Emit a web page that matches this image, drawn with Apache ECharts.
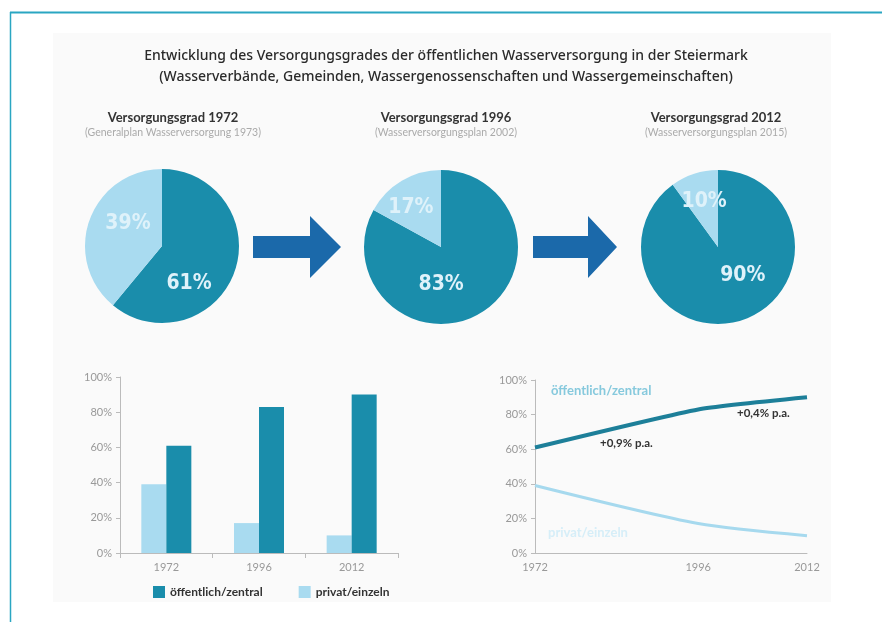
<!DOCTYPE html>
<html><head><meta charset="utf-8">
<script src="https://cdn.jsdelivr.net/npm/echarts@6/dist/echarts.min.js"></script>
<style>html,body{margin:0;padding:0;background:#fff}#c{width:882px;height:622px}</style>
</head><body><div id="c"></div>
<script>
const years = ['1972', '1996', '2012'];
const yearNums = [1972, 1996, 2012];
const oeffentlich = [61, 83, 90];
const privat = [39, 17, 10];
const seriesNames = ['öffentlich/zentral', 'privat/einzeln'];
const pieTitles = ['Versorgungsgrad 1972', 'Versorgungsgrad 1996', 'Versorgungsgrad 2012'];
const pieSources = ['(Generalplan Wasserversorgung 1973)', '(Wasserversorgungsplan 2002)', '(Wasserversorgungsplan 2015)'];
const growthLabels = ['+0,9% p.a.', '+0,4% p.a.'];
const mainTitle = 'Entwicklung des Versorgungsgrades der öffentlichen Wasserversorgung in der Steiermark\n(Wasserverbände, Gemeinden, Wassergenossenschaften und Wassergemeinschaften)';

const DARK = '#1a8dab';
const LIGHT = '#a9dbf0';
const FONT = 'Lato, "Noto Sans", sans-serif';

const pieCenters = [[162, 246], [441, 247], [718, 247]];
const headingCenters = [168, 441, 711];
const pieLabelOffsets = [[[-12, 23], [5, -8]], [[-21, 2], [-9, -4]], [[12, -11], [-1, -6]]];

const chart = echarts.init(document.getElementById('c'), null, {renderer: 'canvas'});

const titles = [{
  text: mainTitle, left: 441, top: 41, textAlign: 'center',
  textStyle: {fontFamily: '"Noto Sans", sans-serif', fontSize: 14, fontWeight: 500, color: '#2a2a2a', lineHeight: 21}
}];
pieCenters.forEach((c, i) => {
  titles.push({
    text: pieTitles[i], subtext: pieSources[i], left: headingCenters[i], top: 106, textAlign: 'center', itemGap: 3,
    textStyle: {fontFamily: FONT, fontSize: 13, fontWeight: 'bold', color: '#333'},
    subtextStyle: {fontFamily: FONT, fontSize: 10.5, color: '#aaa'}
  });
});

const pies = pieCenters.map((c, i) => ({
  type: 'pie', center: c, radius: 77, startAngle: 90, clockwise: true,
  silent: true, animation: false,
  label: {show: true, position: 'inside', formatter: '{c}%',
    fontFamily: '"Liberation Sans Narrow", "DejaVu Sans Condensed", sans-serif', fontWeight: 'bold',
    fontSize: 21, color: '#dff2fa'},
  labelLine: {show: false},
  data: [
    {value: oeffentlich[i], name: seriesNames[0], itemStyle: {color: DARK}, label: {offset: pieLabelOffsets[i][0]}},
    {value: privat[i], name: seriesNames[1], itemStyle: {color: LIGHT}, label: {offset: pieLabelOffsets[i][1]}}
  ]
}));

function arrow(x0, x1, x2) {
  return {type: 'polygon', shape: {points: [[x0, 236], [x1, 236], [x1, 216], [x2, 247], [x1, 278], [x1, 258], [x0, 258]]},
    style: {fill: '#1b69aa'}, z: 5};
}

const axisLab = {fontFamily: FONT, fontSize: 11, color: '#999'};
const axisLine = {show: true, lineStyle: {color: '#bbb', width: 1}};

const option = {
  animation: false,
  backgroundColor: '#fff',
  title: titles,
  graphic: [
    {type: 'rect', shape: {x: 53, y: 33, width: 778, height: 569}, style: {fill: '#fafafa'}, z: -10, silent: true},
    {type: 'line', shape: {x1: 10, y1: 12.5, x2: 882, y2: 12.5}, style: {stroke: '#2aa6c2', lineWidth: 2}, z: -5},
    {type: 'line', shape: {x1: 10.5, y1: 12, x2: 10.5, y2: 622}, style: {stroke: '#2aa6c2', lineWidth: 1.5}, z: -5},
    arrow(253, 310, 341),
    arrow(533, 588, 617),
    {type: 'text', left: 551, top: 384, style: {text: seriesNames[0], fill: '#86c9dd', font: 'bold 13px ' + FONT}},
    {type: 'text', left: 548, top: 526, style: {text: seriesNames[1], fill: '#d6eef8', font: 'bold 13px ' + FONT}},
    {type: 'text', left: 600, top: 437, style: {text: growthLabels[0], fill: '#333', font: 'bold 11.5px ' + FONT}},
    {type: 'text', left: 737, top: 407, style: {text: growthLabels[1], fill: '#333', font: 'bold 11.5px ' + FONT}}
  ],
  legend: {
    left: 148, top: 581, itemWidth: 12, itemHeight: 12, itemGap: 36,
    icon: 'rect',
    textStyle: {fontFamily: FONT, fontSize: 12, fontWeight: 'bold', color: '#333'},
    data: [
      {name: seriesNames[0], itemStyle: {color: DARK}},
      {name: seriesNames[1], itemStyle: {color: LIGHT}}
    ]
  },
  grid: [
    {left: 120, right: 484, top: 377, bottom: 69},
    {left: 535, right: 75, top: 380, bottom: 69}
  ],
  xAxis: [
    {type: 'category', gridIndex: 0, data: years, axisLine: axisLine,
     axisTick: {show: true, length: 5, lineStyle: {color: '#bbb'}},
     axisLabel: Object.assign({margin: 9, fontSize: 12}, axisLab)},
    {type: 'value', gridIndex: 1, min: 1972, max: 2012, interval: 4, axisLine: axisLine,
     axisTick: {show: false}, splitLine: {show: false},
     axisLabel: Object.assign({margin: 9, fontSize: 12, formatter: v => yearNums.indexOf(v) >= 0 ? String(v) : ''}, axisLab)}
  ],
  yAxis: [
    {type: 'value', gridIndex: 0, min: 0, max: 100, interval: 20, axisLine: axisLine,
     axisTick: {show: true, length: 4, lineStyle: {color: '#bbb'}}, splitLine: {show: false},
     axisLabel: Object.assign({formatter: '{value}%'}, axisLab)},
    {type: 'value', gridIndex: 1, min: 0, max: 100, interval: 20, axisLine: axisLine,
     axisTick: {show: true, length: 4, lineStyle: {color: '#bbb'}}, splitLine: {show: false},
     axisLabel: Object.assign({formatter: '{value}%'}, axisLab)}
  ],
  series: [
    ...pies,
    {type: 'bar', name: seriesNames[1], xAxisIndex: 0, yAxisIndex: 0, data: privat, barWidth: 25, barGap: '0%',
     itemStyle: {color: LIGHT}, z: 3},
    {type: 'bar', name: seriesNames[0], xAxisIndex: 0, yAxisIndex: 0, data: oeffentlich, barWidth: 25, barGap: '0%',
     itemStyle: {color: DARK}, z: 3},
    {type: 'line', name: seriesNames[0] + ' ', xAxisIndex: 1, yAxisIndex: 1, smooth: 0.15, showSymbol: false,
     data: yearNums.map((y, i) => [y, oeffentlich[i]]), lineStyle: {color: '#1d7f99', width: 4}},
    {type: 'line', name: seriesNames[1] + ' ', xAxisIndex: 1, yAxisIndex: 1, smooth: 0.25, showSymbol: false,
     data: yearNums.map((y, i) => [y, privat[i]]), lineStyle: {color: '#a6d9ee', width: 3}}
  ]
};
chart.setOption(option);
</script></body></html>
